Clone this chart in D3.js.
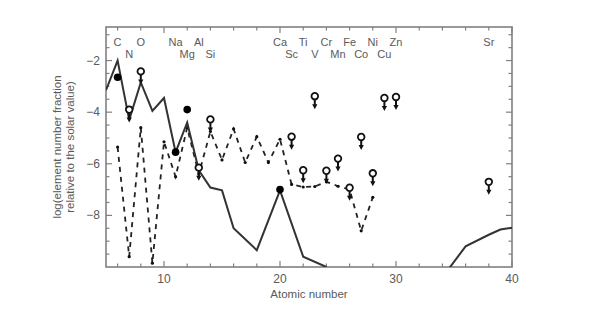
<!DOCTYPE html>
<html><head><meta charset="utf-8">
<script src="https://cdn.jsdelivr.net/npm/d3@7"></script>
<style>
body{margin:0;background:#fff;}
text{font-family:"Liberation Sans",Arial,sans-serif;}
</style></head>
<body><svg id="c" width="600" height="320"></svg>
<script>
// ---- data ----
const solidZ1 = [5,6,7,8,9,10,11,12,13,14,15,16,18,20,22,24];
const solidV1 = [-3.15,-2.0,-4.3,-2.85,-3.95,-3.45,-5.55,-4.4,-6.25,-6.92,-7.03,-8.5,-9.35,-7.03,-9.6,-10.0];
const solidZ2 = [34,36,38,39,40];
const solidV2 = [-10.4,-9.2,-8.75,-8.55,-8.48];
const dashZ = [6,7,8,9,10,11,12,13,14,15,16,17,18,19,20,21,22,23,24,25,26,27,28];
const dashV = [-5.35,-9.6,-4.6,-9.85,-5.15,-6.5,-4.6,-6.4,-4.75,-5.85,-4.65,-5.95,-4.95,-5.95,-5.05,-6.8,-6.9,-6.88,-6.7,-6.87,-7.0,-8.6,-7.3];
const filledZ = [6,11,12,20];
const filledV = [-2.65,-5.55,-3.9,-7.0];
const limZ = [7,8,13,14,21,22,23,24,25,26,27,28,29,30,38];
const limV = [-3.9,-2.42,-6.15,-4.28,-4.95,-6.25,-3.38,-6.27,-5.8,-6.93,-4.96,-6.37,-3.45,-3.41,-6.7];
const elemNames = ["C","N","O","Na","Mg","Al","Si","Ca","Sc","Ti","V","Cr","Mn","Fe","Co","Ni","Cu","Zn","Sr"];
const elemZ     = [6,7,8,11,12,13,14,20,21,22,23,24,25,26,27,28,29,30,38];
const elemRow   = [0,1,0,0,1,0,1,0,1,0,1,0,1,0,1,0,1,0,0];
const xMajor = [10,20,30,40];
const yMajor = [-2,-4,-6,-8];

// ---- layout ----
const L=106,R=512,T=27,B=267;
const svg=d3.select("#c");
const x=d3.scaleLinear().domain([5,40]).range([L,R]);
const y=d3.scaleLinear().domain([-10,-0.7]).range([B,T]);
const gray="#808080", tgray="#5a5a5a";

svg.append("defs").append("clipPath").attr("id","clip")
  .append("rect").attr("x",L).attr("y",T).attr("width",R-L).attr("height",B-T);

// ticks (inward on all sides)
const xMinor=d3.range(6,40,2).filter(v=>!xMajor.includes(v));
const yMinor=d3.range(-9.5,-0.7,0.5).filter(v=>!yMajor.includes(v));
const tk=svg.append("g").attr("stroke",gray).attr("stroke-width",1.2);
xMajor.concat(xMinor).forEach(v=>{
  const len=xMajor.includes(v)?6:3.5;
  tk.append("line").attr("x1",x(v)).attr("x2",x(v)).attr("y1",B).attr("y2",B-len);
  tk.append("line").attr("x1",x(v)).attr("x2",x(v)).attr("y1",T).attr("y2",T+len);
});
yMajor.concat(yMinor).forEach(v=>{
  const len=yMajor.includes(v)?6:3.5;
  tk.append("line").attr("y1",y(v)).attr("y2",y(v)).attr("x1",L).attr("x2",L+len);
  tk.append("line").attr("y1",y(v)).attr("y2",y(v)).attr("x1",R).attr("x2",R-len);
});
svg.append("rect").attr("x",L).attr("y",T).attr("width",R-L).attr("height",B-T)
  .attr("fill","none").attr("stroke",gray).attr("stroke-width",1.6);

// tick labels
svg.append("g").selectAll("text").data(xMajor).join("text")
  .attr("x",d=>x(d)).attr("y",B+16).attr("text-anchor","middle")
  .attr("font-size",12).attr("fill",tgray).text(d=>d);
svg.append("g").selectAll("text").data(yMajor).join("text")
  .attr("x",L-6).attr("y",d=>y(d)+4).attr("text-anchor","end")
  .attr("font-size",12).attr("fill",tgray).text(d=>"\u2212"+Math.abs(d));

// element labels
svg.append("g").selectAll("text").data(elemNames).join("text")
  .attr("x",(d,i)=>x(elemZ[i])).attr("y",(d,i)=>elemRow[i]?57.5:46)
  .attr("text-anchor","middle").attr("font-size",11).attr("fill",tgray).text(d=>d);

// axis titles
svg.append("text").attr("x",(L+R)/2).attr("y",298).attr("text-anchor","middle")
  .attr("font-size",11.5).attr("fill",tgray).text("Atomic number");
const yt=svg.append("text").attr("transform","translate(0,147) rotate(-90)")
  .attr("text-anchor","middle").attr("font-size",11.5).attr("fill",tgray);
yt.append("tspan").attr("x",0).attr("y",61).text("log(element number fraction");
yt.append("tspan").attr("x",0).attr("y",74).text("relative to the solar value)");

// plot content
const g=svg.append("g").attr("clip-path","url(#clip)");
const line=d3.line().x(d=>x(d[0])).y(d=>y(d[1]));
g.append("path").datum(dashZ.map((z,i)=>[z,dashV[i]])).attr("d",line)
  .attr("fill","none").attr("stroke","#222").attr("stroke-width",1.8).attr("stroke-dasharray","5,5");
g.selectAll(".dd").data(dashZ).join("circle").attr("class","dd")
  .attr("cx",d=>x(d)).attr("cy",(d,i)=>y(dashV[i])).attr("r",1.6).attr("fill","#111");
[[solidZ1,solidV1],[solidZ2,solidV2]].forEach(([zs,vs])=>{
  g.append("path").datum(zs.map((z,i)=>[z,vs[i]])).attr("d",line)
    .attr("fill","none").attr("stroke","#333").attr("stroke-width",2).attr("stroke-linejoin","miter");
});
g.selectAll(".fc").data(filledZ).join("circle").attr("class","fc")
  .attr("cx",d=>x(d)).attr("cy",(d,i)=>y(filledV[i])).attr("r",3.8).attr("fill","#000");
// upper limits
const lim=g.selectAll(".lim").data(limZ).join("g").attr("class","lim")
  .attr("transform",(d,i)=>`translate(${x(d)},${y(limV[i])})`);
lim.append("line").attr("x1",0).attr("x2",0).attr("y1",3.5).attr("y2",9)
  .attr("stroke","#111").attr("stroke-width",2);
lim.append("path").attr("d","M-2.6,8 L2.6,8 L0,13 Z").attr("fill","#111");
lim.append("circle").attr("r",3.3).attr("fill","#fff").attr("stroke","#111").attr("stroke-width",1.8);
</script></body></html>
